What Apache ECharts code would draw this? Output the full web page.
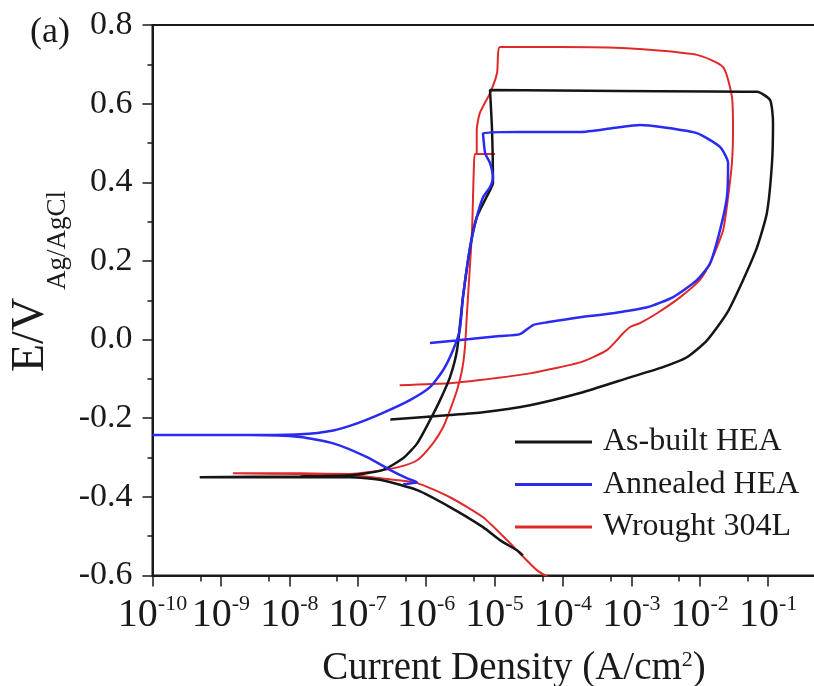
<!DOCTYPE html>
<html><head><meta charset="utf-8">
<script src="https://cdn.jsdelivr.net/npm/echarts@6/dist/echarts.min.js"></script>
<style>html,body{margin:0;padding:0;background:#fff}#c{width:814px;height:686px}</style>
</head><body><div id="c"></div>
<script>
// ---- data (current density A/cm^2, potential V vs Ag/AgCl) ----
const seriesNames = ['As-built HEA', 'Annealed HEA', 'Wrought 304L'];

const asBuiltCurrent = [2.6e-5, 2.13e-5, 1.2e-5, 6.8e-6, 2.23e-6, 7.4e-7, 2.3e-7, 7.7e-8, 1.43e-8, 4.9e-10,
  1.43e-8, 7.7e-8, 2.3e-7, 4.6e-7, 7.4e-7, 1.14e-6, 1.6e-6, 2.23e-6, 2.83e-6, 3.46e-6, 4.4e-6, 5.5e-6,
  8.6e-6, 9.5e-6, 9.2e-6, 8.6e-6, 6.8e-4, 6.9e-2, 0.107, 0.118, 0.114, 9.6e-2, 6.9e-2, 4.3e-2, 2.5e-2,
  1.28e-2, 6.5e-3, 2.9e-3, 9.6e-4, 1.78e-4, 3.3e-5, 6.8e-6, 2.23e-6, 3.0e-7];
const asBuiltE = [-0.549, -0.536, -0.510, -0.477, -0.426, -0.383, -0.358, -0.350, -0.350, -0.350,
  -0.348, -0.345, -0.332, -0.302, -0.264, -0.205, -0.154, -0.096, -0.027, 0.108, 0.235, 0.311,
  0.380, 0.398, 0.533, 0.635, 0.632, 0.630, 0.609, 0.551, 0.449, 0.322, 0.235, 0.151, 0.067,
  -0.002, -0.045, -0.070, -0.096, -0.136, -0.167, -0.185, -0.192, -0.203];

const annealedCurrent = [4.6e-7, 7.4e-7, 5.3e-7, 3.0e-7, 1.37e-7, 4.4e-8, 1.43e-8, 2.7e-9, 1e-10, 2.7e-9,
  1.43e-8, 4.4e-8, 9.8e-8, 2.3e-7, 5.8e-7, 1.14e-6, 1.77e-6, 2.47e-6, 3.1e-6, 3.46e-6, 4.4e-6, 5.5e-6,
  6.8e-6, 8.6e-6, 9.5e-6, 8.6e-6, 7.3e-6, 6.8e-6, 2.36e-5, 1.78e-4, 5.4e-4, 1.34e-3, 2.9e-3, 9.1e-3,
  1.98e-2, 2.6e-2, 2.5e-2, 1.98e-2, 1.42e-2, 9.1e-3, 4.1e-3, 1.7e-3, 5.4e-4, 1.78e-4, 5.9e-5, 3.66e-5,
  2.36e-5, 1.2e-5, 6.1e-6, 1.14e-6];
const annealedE = [-0.368, -0.363, -0.353, -0.332, -0.299, -0.264, -0.248, -0.243, -0.243, -0.243,
  -0.241, -0.231, -0.213, -0.187, -0.154, -0.121, -0.078, -0.027, 0.024, 0.108, 0.235, 0.311,
  0.362, 0.388, 0.413, 0.449, 0.474, 0.525, 0.528, 0.528, 0.538, 0.546, 0.540, 0.525,
  0.490, 0.449, 0.362, 0.278, 0.194, 0.151, 0.108, 0.082, 0.067, 0.057, 0.044, 0.037,
  0.014, 0.009, 0.004, -0.009];

const wroughtCurrent = [6.9e-5, 4.2e-5, 2.36e-5, 1.69e-5, 6.8e-6, 2.23e-6, 7.4e-7, 2.3e-7, 7.7e-8, 1.43e-8,
  1.5e-9, 1.43e-8, 7.7e-8, 1.5e-7, 3.8e-7, 7.4e-7, 1.26e-6, 1.77e-6, 2.23e-6, 2.83e-6, 3.35e-6, 3.7e-6,
  3.96e-6, 4.4e-6, 4.7e-6, 4.85e-6, 5.0e-6, 5.2e-6, 1.02e-5, 5.5e-6, 5.5e-6, 6.1e-6, 8.6e-6, 1.09e-5,
  1.2e-5, 9.1e-5, 8.6e-4, 9.1e-3, 2.2e-2, 2.96e-2, 3.07e-2, 2.96e-2, 2.6e-2, 2.2e-2, 1.42e-2, 1.0e-2,
  5.2e-3, 2.38e-3, 1.34e-3, 9.6e-4, 7.6e-4, 4.4e-4, 1.78e-4, 3.3e-5, 6.1e-6, 2.23e-6, 4.1e-7];
const wroughtE = [-0.610, -0.587, -0.544, -0.518, -0.452, -0.401, -0.365, -0.353, -0.345, -0.342,
  -0.340, -0.340, -0.342, -0.337, -0.325, -0.307, -0.264, -0.223, -0.180, -0.129, -0.078, -0.019,
  0.067, 0.194, 0.278, 0.362, 0.439, 0.472, 0.472, 0.472, 0.533, 0.576, 0.627, 0.678,
  0.744, 0.744, 0.741, 0.724, 0.693, 0.617, 0.533, 0.449, 0.362, 0.278, 0.194, 0.151,
  0.108, 0.067, 0.042, 0.032, 0.016, -0.027, -0.058, -0.086, -0.103, -0.111, -0.116];

const decadeTicks = [1e-10, 1e-9, 1e-8, 1e-7, 1e-6, 1e-5, 1e-4, 1e-3, 1e-2, 1e-1];
const minorTickCurrents = [5e-10, 5e-9, 5e-8, 5e-7, 5e-6, 5e-5, 5e-4, 5e-3, 5e-2, 5e-1];

// ---- chart ----
const FONT = '"Liberation Serif", "Times New Roman", serif';
const zip = (a, b) => a.map((v, i) => [v, b[i]]);
const colors = ['#151515', '#2a2af2', '#e02a2a'];
const INK = '#1a1a1a';

const chart = echarts.init(document.getElementById('c'), null, {renderer: 'canvas'});
chart.setOption({
  animation: false,
  backgroundColor: '#fff',
  grid: {left: 152.5, right: -22.5, top: 25, bottom: 110.5, outerBoundsMode: 'none', containLabel: false,
    show: true, borderColor: INK, borderWidth: 2, backgroundColor: 'transparent'},
  xAxis: [{
    type: 'log', logBase: 10, min: 1e-10, max: 1, position: 'bottom',
    axisLine: {onZero: false, lineStyle: {color: INK, width: 2}},
    axisTick: {length: 11, customValues: decadeTicks, lineStyle: {color: INK, width: 1.5}},
    splitLine: {show: false},
    axisLabel: {
      margin: 18, customValues: decadeTicks, hideOverlap: false,
      formatter: v => { const e = Math.round(Math.log10(v)); return e >= 0 ? '' : '{b|10}{s|' + e + '}'; },
      rich: {
        b: {fontSize: 40, fontFamily: FONT, color: INK, lineHeight: 44},
        s: {fontSize: 22, fontFamily: FONT, color: INK, lineHeight: 18, verticalAlign: 'top'}
      }
    }
  }, {
    // helper axis in decade (exponent) units, used only to place the 5x10^n minor ticks;
    // it sits on the zero of a hidden helper y axis whose zero is the plot bottom
    type: 'value', min: Math.log10(decadeTicks[0]), max: 0, position: 'bottom',
    axisLine: {show: false, onZero: true, onZeroAxisIndex: 1}, splitLine: {show: false}, axisLabel: {show: false},
    axisTick: {show: true, length: 6, customValues: minorTickCurrents.map(Math.log10), lineStyle: {color: INK, width: 1.5}}
  }],
  yAxis: [{
    type: 'value', min: -0.6, max: 0.8, interval: 0.2,
    axisLine: {show: true, onZero: false, lineStyle: {color: INK, width: 2}},
    axisTick: {show: true, length: 10, lineStyle: {color: INK, width: 1.5}},
    minorTick: {show: true, splitNumber: 2, length: 5, lineStyle: {color: INK, width: 1.5}},
    splitLine: {show: false},
    axisLabel: {margin: 20, fontSize: 34, fontFamily: FONT, color: INK,
      formatter: v => (Math.abs(v) < 1e-9 ? 0 : v).toFixed(1)}
  }, {
    type: 'value', min: 0, max: 1, show: false
  }],
  legend: {
    orient: 'vertical', left: 515, top: 426, padding: 0, itemGap: 10.5,
    itemWidth: 77, itemHeight: 3, icon: 'rect',
    data: seriesNames,
    textStyle: {fontSize: 32, fontFamily: FONT, color: INK, lineHeight: 32, padding: [0, 0, 0, 6]}
  },
  series: [
    {name: seriesNames[2], type: 'line', data: zip(wroughtCurrent, wroughtE), showSymbol: false, symbol: 'none', smooth: 0.2,
      xAxisIndex: 0, yAxisIndex: 0, lineStyle: {color: colors[2], width: 2}, itemStyle: {color: colors[2]}, z: 2},
    {name: seriesNames[0], type: 'line', data: zip(asBuiltCurrent, asBuiltE), showSymbol: false, symbol: 'none', smooth: 0.2,
      xAxisIndex: 0, yAxisIndex: 0, lineStyle: {color: colors[0], width: 2.5}, itemStyle: {color: colors[0]}, z: 3},
    {name: seriesNames[1], type: 'line', data: zip(annealedCurrent, annealedE), showSymbol: false, symbol: 'none', smooth: 0.2,
      xAxisIndex: 0, yAxisIndex: 0, lineStyle: {color: colors[1], width: 2.5}, itemStyle: {color: colors[1]}, z: 4}
  ],
  graphic: [
    {type: 'text', x: 30, y: 33, style: {text: '(a)', fontSize: 36, fontFamily: FONT, fill: INK, verticalAlign: 'middle'}},
    {type: 'group', x: 31, y: 372, rotation: Math.PI / 2, children: [
      {type: 'text', x: 0, y: 0, style: {text: 'E/V', fontSize: 46, fontFamily: FONT, fill: INK, align: 'left', verticalAlign: 'middle'}},
      {type: 'text', x: 82, y: 27, style: {text: 'Ag/AgCl', fontSize: 27, fontFamily: FONT, fill: INK, align: 'left', verticalAlign: 'middle'}}
    ]},
    {type: 'text', x: 514, y: 669, style: {
      text: '{a|Current Density (A/cm}{s|2}{a|)}', align: 'center', verticalAlign: 'middle',
      rich: {
        a: {fontSize: 39, fontFamily: FONT, fill: INK, lineHeight: 40},
        s: {fontSize: 22, fontFamily: FONT, fill: INK, lineHeight: 20, verticalAlign: 'top'}
      }
    }}
  ]
});
</script>
</body></html>
